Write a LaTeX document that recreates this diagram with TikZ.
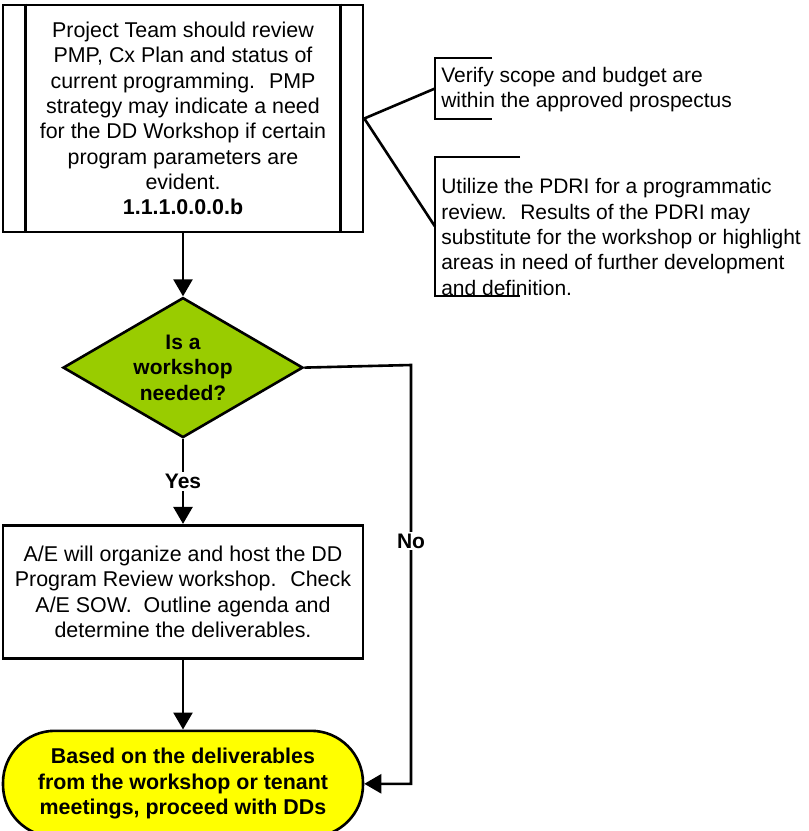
\documentclass[tikz,border=0pt]{standalone}
\usepackage{fontspec}
\setmainfont{Liberation Sans}
\usetikzlibrary{arrows.meta,positioning,shapes.geometric}
\definecolor{leafgreen}{RGB}{153,204,0}
\definecolor{brightyellow}{RGB}{255,255,0}

\begin{document}
\begin{tikzpicture}[
      x=1pt, y=1pt,
      font=\fontsize{21.4}{25.3}\selectfont,
      line width=2.6pt,
      procbox/.style={draw, fill=white, align=center, inner sep=0pt,
                      minimum width=360pt, minimum height=227pt},
      taskbox/.style={draw, fill=white, align=center, inner sep=0pt,
                      minimum width=360pt, minimum height=133pt},
      decision/.style={draw, diamond, fill=leafgreen, aspect=1.714,
                       minimum width=240pt, minimum height=140pt, inner sep=0pt,
                       align=center, font=\fontsize{21}{25.3}\selectfont\bfseries},
      endcap/.style={draw, fill=brightyellow, rounded corners=52pt, align=center,
                     minimum width=360pt, minimum height=106pt,
                     font=\fontsize{21.4}{25.3}\selectfont\bfseries},
      note/.style={align=left, anchor=west, inner sep=0pt,
                   font=\fontsize{21}{25.3}\selectfont},
      arrow/.style={-{Triangle[width=19pt,length=17pt]}},
      lbl/.style={fill=white, inner sep=2pt, font=\fontsize{21}{25.3}\selectfont\bfseries}
  ]
  \useasboundingbox (0,0) rectangle (809,-831);

  \node[procbox] (review) at (183,-118.5) {Project Team should review\\
      PMP, Cx Plan and status of\\current programming.~ PMP\\
      strategy may indicate a need\\for the DD Workshop if certain\\
      program parameters are\\evident.\\\textbf{1.1.1.0.0.0.b}};
  \draw ([xshift=24pt]review.north west) -- ([xshift=24pt]review.south west);
  \draw ([xshift=-24pt]review.north east) -- ([xshift=-24pt]review.south east);

  \node[decision, below=63pt of review] (need) {Is a\\workshop\\needed?};
  \node[taskbox, below=85pt of need] (organize) {A/E will organize and host the DD\\
      Program Review workshop.~ Check\\A/E SOW.~ Outline agenda and\\
      determine the deliverables.};
  \node[endcap, below=70pt of organize] (proceed) {Based on the deliverables\\
      from the workshop or tenant\\meetings, proceed with DDs};

  % side notes
  \coordinate (scope) at (435,-88.5);
  \coordinate (pdri) at (435,-226.5);
  \draw ([shift={(57pt,30.5pt)}]scope) -- ++(-57pt,0) -- ++(0,-61pt) -- ++(57pt,0);
  \draw ([shift={(85pt,69.5pt)}]pdri) -- ++(-85pt,0) -- ++(0,-139pt) -- ++(85pt,0);
  \node[note] (scopetxt) at (440,-89.5) {Verify scope and budget are\\within the approved prospectus};
  \node[note] (pdritxt) at (440,-237) {Utilize the PDRI for a programmatic\\
      review.~ Results of the PDRI may\\substitute for the workshop or highlight\\
      areas in need of further development\\and definition.};
  \draw (review.east) -- (scope);
  \draw (review.east) -- (pdri);

  % flow
  \coordinate (bend) at (411,-365);
  \draw[arrow] (review) -- (need);
  \draw[arrow] (need) -- node[lbl]{Yes} (organize);
  \draw[arrow] (organize) -- (proceed);
  \draw[arrow] (need.east) -- (bend) |- node[lbl, pos=0.21]{No} (proceed.east);
\end{tikzpicture}
\end{document}
